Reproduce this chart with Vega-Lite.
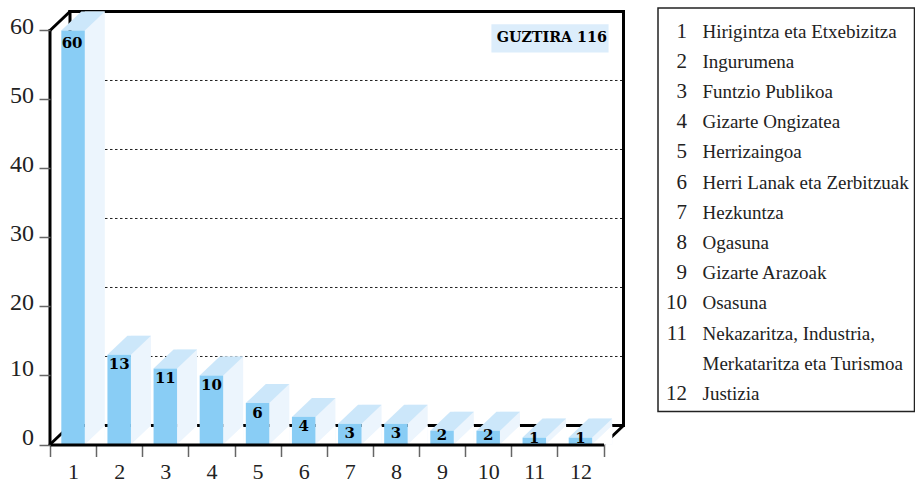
{
"$schema":"https://vega.github.io/schema/vega-lite/v6.json",
"padding":{"left":9,"top":7,"right":0,"bottom":3},
"bounds":"flush",
"spacing":54,
"background":"white",
"config":{"font":"Liberation Serif"},
"datasets":{
"bars":[{"x":1,"y":60},{"x":2,"y":13},{"x":3,"y":11},{"x":4,"y":10},{"x":5,"y":6},{"x":6,"y":4},{"x":7,"y":3},{"x":8,"y":3},{"x":9,"y":2},{"x":10,"y":2},{"x":11,"y":1},{"x":12,"y":1}],
"segments":[
{"kind":"grid","x":0.5,"x2":12.5,"y":10,"y2":10},{"kind":"grid","x":0.5,"x2":12.5,"y":20,"y2":20},{"kind":"grid","x":0.5,"x2":12.5,"y":30,"y2":30},{"kind":"grid","x":0.5,"x2":12.5,"y":40,"y2":40},{"kind":"grid","x":0.5,"x2":12.5,"y":50,"y2":50},
{"kind":"back","x":0.5,"x2":12.5,"y":0,"y2":0},{"kind":"back","x":0.5,"x2":12.5,"y":60,"y2":60},{"kind":"back","x":12.5,"x2":12.5,"y":0,"y2":60},{"kind":"back","x":0.5,"x2":0.5,"y":0,"y2":60},
{"kind":"diag","x":0.5,"x2":0.5,"y":0,"y2":0},{"kind":"diag","x":0.5,"x2":0.5,"y":60,"y2":60},{"kind":"diag","x":12.5,"x2":12.5,"y":0,"y2":0},
{"kind":"front","x":0.5,"x2":0.5,"y":0,"y2":60}
],
"legend":[
{"n":"1","label":"Hirigintza eta Etxebizitza","row":1},{"n":"2","label":"Ingurumena","row":2},{"n":"3","label":"Funtzio Publikoa","row":3},{"n":"4","label":"Gizarte Ongizatea","row":4},{"n":"5","label":"Herrizaingoa","row":5},{"n":"6","label":"Herri Lanak eta Zerbitzuak","row":6},{"n":"7","label":"Hezkuntza","row":7},{"n":"8","label":"Ogasuna","row":8},{"n":"9","label":"Gizarte Arazoak","row":9},{"n":"10","label":"Osasuna","row":10},{"n":"11","label":"Nekazaritza, Industria,","row":11},{"n":"","label":"Merkataritza eta Turismoa","row":12},{"n":"12","label":"Justizia","row":13}
]
},
"hconcat":[
{
"width":553.5,"height":436.5,
"view":{"stroke":null},
"encoding":{
"x":{"field":"x","type":"quantitative","scale":{"domain":[0.5,12.5],"nice":false,"zero":false,"padding":0},
"axis":{"title":null,"grid":false,"values":[0.5,1.5,2.5,3.5,4.5,5.5,6.5,7.5,8.5,9.5,10.5,11.5,12.5],"labelExpr":"datum.value<12?format(datum.value+0.5,'d'):''","labelOffset":23,"labelFontSize":22,"labelColor":"#222","labelPadding":5,"tickSize":12,"tickColor":"#666","tickWidth":1.5,"domainColor":"#000","domainWidth":3,"zindex":1,"labelFlush":false,"labelOverlap":false,"labelBound":false}},
"y":{"field":"y","type":"quantitative","scale":{"domain":[0,63.26],"nice":false},
"axis":{"title":null,"grid":false,"domain":false,"values":[0,10,20,30,40,50,60],"format":"d","labelFontSize":24,"labelColor":"#222","labelPadding":5.5,"tickSize":11,"tickColor":"#666","tickWidth":1.5,"labelOffset":{"condition":{"test":"datum.value<=10","value":-7},"value":-3.5},"zindex":1}}
},
"layer":[
{"data":{"name":"segments"},"transform":[{"filter":"datum.kind=='grid'"}],
"mark":{"type":"rule","color":"#222","strokeWidth":1,"strokeDash":[2.5,2.5],"xOffset":20,"x2Offset":20,"yOffset":-19,"y2Offset":-19},
"encoding":{"x2":{"field":"x2"},"y2":{"field":"y2"}}},
{"data":{"name":"segments"},"transform":[{"filter":"datum.kind=='back'"}],
"mark":{"type":"rule","color":"#000","strokeWidth":3,"strokeCap":"square","xOffset":20,"x2Offset":20,"yOffset":-19,"y2Offset":-19},
"encoding":{"x2":{"field":"x2"},"y2":{"field":"y2"}}},
{"data":{"name":"segments"},"transform":[{"filter":"datum.kind=='diag'"}],
"mark":{"type":"rule","color":"#000","strokeWidth":3,"strokeCap":"round","x2Offset":20,"y2Offset":-19},
"encoding":{"x2":{"field":"x2"},"y2":{"field":"y2"}}},
{"data":{"name":"segments"},"transform":[{"filter":"datum.kind=='front'"}],
"mark":{"type":"rule","color":"#000","strokeWidth":3,"strokeCap":"square"},
"encoding":{"x2":{"field":"x2"},"y2":{"field":"y2"}}},
{"data":{"name":"bars"},
"mark":{"type":"bar","orient":"vertical","width":20,"color":"#ecf5fd","xOffset":21.75,"yOffset":-19,"y2Offset":0},
"encoding":{"y":{"field":"y","type":"quantitative","stack":null}}},
{"data":{"name":"bars"},"transform":[{"calculate":"0","as":"base"}],
"mark":{"type":"point","filled":true,"opacity":1,"size":4,"color":"white","shape":"M11.75,0L31.75,0L31.75,-19Z"},
"encoding":{"y":{"field":"base","type":"quantitative"}}},
{"data":{"name":"bars"},
"mark":{"type":"point","filled":true,"opacity":1,"size":4,"color":"#cce7fa","shape":"M-11.75,0L11.75,0L31.75,-19L8.25,-19Z"}},
{"data":{"name":"bars"},
"mark":{"type":"bar","orient":"vertical","width":23.5,"color":"#89cdf5"},
"encoding":{"y":{"field":"y","type":"quantitative","stack":null}}},
{"data":{"name":"bars"},"transform":[{"filter":"datum.y>=3 && datum.y<60"}],
"mark":{"type":"text","font":"DejaVu Serif","fontWeight":"bold","fontSize":15,"color":"#000","baseline":"middle","dy":9.5},
"encoding":{"text":{"field":"y"}}},
{"data":{"name":"bars"},"transform":[{"filter":"datum.y==60"}],
"mark":{"type":"text","font":"DejaVu Serif","fontWeight":"bold","fontSize":15,"color":"#000","baseline":"middle","dy":13,"dx":-1},
"encoding":{"text":{"field":"y"}}},
{"data":{"name":"bars"},"transform":[{"filter":"datum.y==2"}],
"mark":{"type":"text","font":"DejaVu Serif","fontWeight":"bold","fontSize":15,"color":"#000","baseline":"middle","dy":4},
"encoding":{"text":{"field":"y"}}},
{"data":{"name":"bars"},"transform":[{"filter":"datum.y==1"}],
"mark":{"type":"text","font":"DejaVu Serif","fontWeight":"bold","fontSize":15,"color":"#000","baseline":"middle","dy":0},
"encoding":{"text":{"field":"y"}}},
{"data":{"values":[{"x":10.07,"x2":12.61,"y":60.9,"y2":56.8}]},
"mark":{"type":"rect","color":"#dcedfb"},
"encoding":{"x2":{"field":"x2"},"y2":{"field":"y2"}}},
{"data":{"values":[{"x":11.38,"y":58.85,"t":"GUZTIRA 116"}]},
"mark":{"type":"text","font":"DejaVu Serif","fontWeight":"bold","fontSize":14.3,"color":"#000","baseline":"middle"},
"encoding":{"text":{"field":"t"}}}
]
},
{
"width":256.5,"height":403.5,
"view":{"stroke":"#222","strokeWidth":1.5},
"data":{"name":"legend"},
"encoding":{
"y":{"field":"row","type":"quantitative","axis":null,"scale":{"domain":[0.222,13.58],"reverse":true,"nice":false,"zero":false}}
},
"layer":[
{"mark":{"type":"text","align":"right","baseline":"middle","fontSize":21,"color":"#222"},
"encoding":{"x":{"datum":29,"type":"quantitative","axis":null,"scale":{"domain":[0,256.5],"nice":false,"zero":false}},"text":{"field":"n"}}},
{"mark":{"type":"text","align":"left","baseline":"middle","fontSize":19,"color":"#222"},
"encoding":{"x":{"datum":44.5,"type":"quantitative","axis":null,"scale":{"domain":[0,256.5],"nice":false,"zero":false}},"text":{"field":"label"}}}
]
}
]
}
